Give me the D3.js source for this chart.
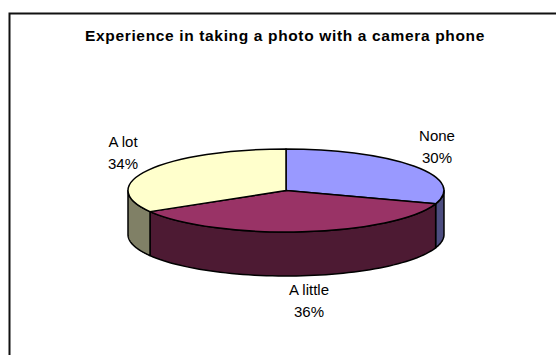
<!DOCTYPE html>
<html><head><meta charset="utf-8">
<script src="https://cdn.jsdelivr.net/npm/d3@7"></script>
<style>html,body{margin:0;padding:0;background:#fff}svg{display:block}</style>
</head><body><svg id="c" width="556" height="355"></svg>
<script>
const categories = ["None", "A little", "A lot"];
const values = [30.2, 36.3, 33.5];
const topColors = ["#9999ff", "#993366", "#ffffcc"];
const sideColors = ["#4d4d80", "#4d1a33", "#808066"];
const titleText = "Experience in taking a photo with a camera phone";

const W = 556, H = 355, cx = 286, cy = 190.5, rx = 158, ry = 41.5, depth = 44;
const svg = d3.select("#c");
svg.append("path").attr("d", `M9.5 355V13.5H${W}`).attr("fill", "none").attr("stroke", "#111").attr("stroke-width", 2);

svg.append("text").attr("x", 285).attr("y", 41).attr("text-anchor", "middle")
  .attr("font-family", "Liberation Sans, Arial, sans-serif").attr("font-size", 15.5).attr("font-weight", "bold")
  .attr("letter-spacing", 0.65).attr("fill", "#000").text(titleText);

const pie = d3.pie().sort(null).value(d => d);
const arcs = pie(values);
const px = a => cx + rx * Math.sin(a), py = a => cy - ry * Math.cos(a);
const line = d3.line();

const front0 = Math.PI / 2, front1 = 3 * Math.PI / 2;
arcs.forEach((d, i) => {
  const a0 = Math.max(d.startAngle, front0), a1 = Math.min(d.endAngle, front1);
  if (a1 <= a0) return;
  const ts = d3.range(0, 61).map(k => a0 + (a1 - a0) * k / 60);
  const pts = ts.map(t => [px(t), py(t)]).concat(ts.slice().reverse().map(t => [px(t), py(t) + depth]));
  svg.append("path").attr("d", line(pts) + "Z").attr("fill", sideColors[i])
    .attr("stroke", "#000").attr("stroke-width", 1.5).attr("stroke-linejoin", "round");
});

const arcGen = d3.arc().innerRadius(0).outerRadius(rx);
const face = svg.append("g").attr("transform", `translate(${cx},${cy}) scale(1,${ry / rx})`);
face.selectAll("path").data(arcs).join("path").attr("d", arcGen)
  .attr("fill", (d, i) => topColors[i]).attr("stroke", "#000").attr("stroke-width", 1.5)
  .attr("stroke-linejoin", "round").attr("vector-effect", "non-scaling-stroke");

const labelPos = [[437, 141], [309, 295], [123, 147]];
categories.forEach((c, i) => {
  const g = svg.append("text").attr("text-anchor", "middle")
    .attr("font-family", "Liberation Sans, Arial, sans-serif").attr("font-size", 15).attr("fill", "#000");
  g.append("tspan").attr("x", labelPos[i][0]).attr("y", labelPos[i][1]).text(c);
  g.append("tspan").attr("x", labelPos[i][0]).attr("dy", 21.5).text(Math.round(values[i]) + "%");
});
</script></body></html>
